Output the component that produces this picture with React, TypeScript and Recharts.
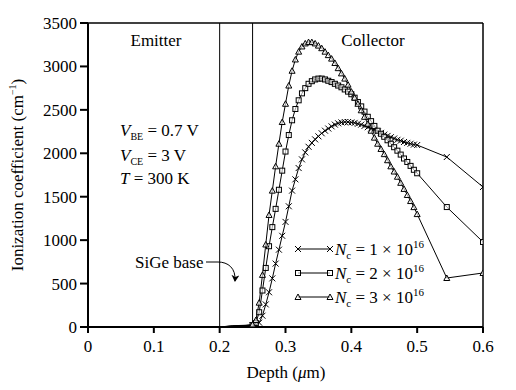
import React from 'react'
import { Line, LineChart, ReferenceLine, XAxis, YAxis } from 'recharts'

// depth (um) sample points
const depth = [
  0, 0.1, 0.2, 0.22, 0.24,
  0.25, 0.255, 0.26, 0.265, 0.27, 0.275, 0.28, 0.285, 0.29, 0.295,
  0.3, 0.305, 0.31, 0.315, 0.32, 0.325, 0.33, 0.335, 0.34, 0.345,
  0.35, 0.355, 0.36, 0.365, 0.37, 0.375, 0.38, 0.385, 0.39, 0.395,
  0.4, 0.405, 0.41, 0.415, 0.42, 0.425, 0.43, 0.435, 0.44, 0.445,
  0.45, 0.455, 0.46, 0.465, 0.47, 0.475, 0.48, 0.485, 0.49, 0.495,
  0.5, 0.545, 0.6,
]

// Nc = 1e16 (crosses)
const nc1 = [
  0, 0, 0, 10, 15,
  18, 25, 50, 130, 260, 400, 560, 730, 890, 1050,
  1210, 1390, 1570, 1700, 1830, 1930, 2010, 2075, 2120, 2160,
  2195, 2230, 2260, 2285, 2310, 2330, 2345, 2355, 2360, 2360,
  2355, 2350, 2340, 2330, 2315, 2300, 2285, 2270, 2250, 2235,
  2215, 2200, 2185, 2170, 2155, 2145, 2130, 2120, 2110, 2100,
  2095, 1957, 1612,
]

// Nc = 2e16 (squares)
const nc2 = [
  0, 0, 0, 12, 18,
  22, 45, 170, 420, 680, 930, 1150, 1360, 1580, 1800,
  2020, 2210, 2380, 2510, 2610, 2690, 2750, 2800, 2830, 2850,
  2860, 2860, 2850, 2835, 2820, 2800, 2780, 2760, 2735, 2710,
  2680, 2640, 2590, 2540, 2480, 2420, 2370, 2315, 2260, 2225,
  2190, 2150, 2110, 2070, 2030, 1985, 1940, 1900, 1855, 1810,
  1770, 1381, 979,
]

// Nc = 3e16 (triangles)
const nc3 = [
  0, 0, 0, 15, 20,
  30, 80, 280, 600, 950, 1290, 1570, 1850, 2110, 2360,
  2570, 2780, 2950, 3080, 3170, 3230, 3265, 3280, 3280, 3265,
  3240, 3210, 3170, 3130, 3090, 3040, 2980, 2920, 2860, 2790,
  2710, 2640, 2570, 2495, 2420, 2340, 2260, 2180, 2110, 2050,
  1990, 1920, 1850, 1790, 1730, 1660, 1590, 1520, 1450, 1380,
  1300, 564, 622,
]

const xTicks = [0, 0.1, 0.2, 0.3, 0.4, 0.5, 0.6]
const yTicks = [0, 500, 1000, 1500, 2000, 2500, 3000, 3500]

const data = depth.map((d, i) => ({ depth: d, nc1: nc1[i], nc2: nc2[i], nc3: nc3[i] }))

const FONT = '"Liberation Serif", "Times New Roman", serif'

const CrossMark = ({ x, y }: { x: number; y: number }) => (
  <g stroke="#000" strokeWidth={1}>
    <line x1={x - 3} y1={y - 3} x2={x + 3} y2={y + 3} />
    <line x1={x - 3} y1={y + 3} x2={x + 3} y2={y - 3} />
  </g>
)
const SquareMark = ({ x, y }: { x: number; y: number }) => (
  <rect x={x - 2.5} y={y - 2.5} width={5} height={5} fill="#fff" fillOpacity={0.6} stroke="#000" strokeWidth={1} />
)
const TriMark = ({ x, y }: { x: number; y: number }) => (
  <path d={`M${x - 3},${y + 2.5} L${x + 3},${y + 2.5} L${x},${y - 3} Z`} fill="#fff" fillOpacity={0.6} stroke="#000" strokeWidth={1} />
)

const makeDot = (Mark: any) => (props: any) => {
  const { cx, cy, payload, index } = props
  if (payload.depth < 0.25 || cx == null || cy == null) return <g key={index} />
  return <Mark key={index} x={cx} y={cy} />
}

const LegendRow = ({ y, Mark, n }: { y: number; Mark: any; n: string }) => (
  <g>
    <line x1={298} y1={y} x2={330} y2={y} stroke="#000" strokeWidth={1} />
    <Mark x={298} y={y} />
    <Mark x={330} y={y} />
    <text x={335} y={y + 6} fontSize={17} fontFamily={FONT}>
      <tspan fontStyle="italic">N</tspan>
      <tspan fontSize={11} dy={4}>c</tspan>
      <tspan dy={-4}>{` = ${n} × 10`}</tspan>
      <tspan fontSize={11} dy={-7}>16</tspan>
    </text>
  </g>
)

export default function App() {
  return (
    <div style={{ position: 'relative', width: 508, height: 382 }}>
      <LineChart width={508} height={382} data={data} margin={{ top: 15, right: 33, left: 20, bottom: 33 }}>
        <XAxis
          dataKey="depth"
          type="number"
          domain={[0, 0.6]}
          ticks={xTicks}
          tickFormatter={(v: number) => (v === 0 ? '0' : v.toFixed(1))}
          tick={{ fill: '#000', fontSize: 17, fontFamily: FONT }}
          tickSize={6}
          tickMargin={7}
          height={30}
          stroke="#000"
          strokeWidth={2}
          interval={0}
          allowDataOverflow
        />
        <YAxis
          type="number"
          domain={[0, 3500]}
          ticks={yTicks}
          tick={{ fill: '#000', fontSize: 17, fontFamily: FONT }}
          tickSize={8}
          tickMargin={3}
          width={60}
          stroke="#000"
          strokeWidth={2}
          interval={0}
          allowDataOverflow
        />
        <ReferenceLine y={3500} stroke="#000" strokeWidth={1.5} />
        <ReferenceLine x={0.6} stroke="#000" strokeWidth={1.5} />
        <ReferenceLine x={0.2} stroke="#000" strokeWidth={1} />
        <ReferenceLine x={0.25} stroke="#000" strokeWidth={1} />
        <Line dataKey="nc1" stroke="#000" strokeWidth={1} dot={makeDot(CrossMark)} activeDot={false} isAnimationActive={false} />
        <Line dataKey="nc2" stroke="#000" strokeWidth={1} dot={makeDot(SquareMark)} activeDot={false} isAnimationActive={false} />
        <Line dataKey="nc3" stroke="#000" strokeWidth={1} dot={makeDot(TriMark)} activeDot={false} isAnimationActive={false} />
      </LineChart>
      <svg width={516} height={390} style={{ position: 'absolute', left: -8, top: -8, pointerEvents: 'none' }}>
        <defs>
          <marker id="arrow" markerWidth="8" markerHeight="8" refX="6" refY="4" orient="auto">
            <path d="M0,0 L7,4 L0,8 L2,4 Z" fill="#000" />
          </marker>
        </defs>
        <g fontFamily={FONT} fill="#000">
          <text x={156} y={46} fontSize={17} textAnchor="middle">Emitter</text>
          <text x={373} y={46} fontSize={17} textAnchor="middle">Collector</text>
          <text x={120} y={136} fontSize={17}>
            <tspan fontStyle="italic">V</tspan>
            <tspan fontSize={10} dy={4}>BE</tspan>
            <tspan dy={-4}> = 0.7 V</tspan>
          </text>
          <text x={120} y={161} fontSize={17}>
            <tspan fontStyle="italic">V</tspan>
            <tspan fontSize={10} dy={4}>CE</tspan>
            <tspan dy={-4}> = 3 V</tspan>
          </text>
          <text x={120} y={184} fontSize={17}>
            <tspan fontStyle="italic">T</tspan>
            <tspan> = 300 K</tspan>
          </text>
          <text x={135} y={268} fontSize={17}>SiGe base</text>
          <path d="M206,262 L218,262 C228,262 236,268 235,281" fill="none" stroke="#000" strokeWidth={1} markerEnd="url(#arrow)" />
          <LegendRow y={249} Mark={CrossMark} n="1" />
          <LegendRow y={273} Mark={SquareMark} n="2" />
          <LegendRow y={297} Mark={TriMark} n="3" />
          <text x={286} y={378} fontSize={17} textAnchor="middle">
            Depth (<tspan fontStyle="italic">μ</tspan>m)
          </text>
          <text transform="translate(23,175) rotate(-90)" fontSize={17} textAnchor="middle">
            Ionization coefficient (cm<tspan fontSize={10} dy={-7}>−1</tspan><tspan dy={7}>)</tspan>
          </text>
        </g>
      </svg>
    </div>
  )
}
